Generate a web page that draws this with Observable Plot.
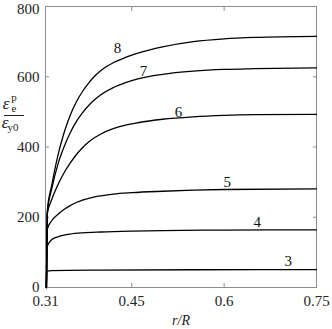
<!DOCTYPE html>
<html>
<head>
<meta charset="utf-8">
<script src="https://cdn.jsdelivr.net/npm/d3@7"></script>
<script src="https://cdn.jsdelivr.net/npm/@observablehq/plot@0.6"></script>
<style>
  html, body { margin: 0; padding: 0; background: #fff; }
  #chart { width: 332px; height: 329px; }
  #chart svg, #chart svg text { font-family: "Liberation Serif", "Times New Roman", serif !important; }
</style>
</head>
<body>
<div id="chart"></div>
<script>
// x = r/R, y = eps_e^p / eps_y0
const curve3 = [[0.3115,0],[0.312,46],[0.32,48],[0.4,49.5],[0.55,50.5],[0.75,51]];
const curve4 = [[0.3115,0],[0.313,118],[0.32,136],[0.33,144],[0.34,149],[0.35,152],[0.37,155.5],[0.40,158],[0.45,160.5],[0.50,162],[0.60,163.5],[0.75,164]];
const curve5 = [[0.3115,0],[0.313,166],[0.32,190],[0.33,208],[0.34,222],[0.35,233],[0.36,242],[0.37,249],[0.38,254],[0.39,258],[0.40,261],[0.42,266],[0.45,270],[0.50,274],[0.55,277],[0.60,279],[0.75,281]];
const curve6 = [[0.3115,0],[0.313,210],[0.32,250],[0.33,292],[0.34,326],[0.35,354],[0.36,378],[0.37,398],[0.38,414],[0.39,427],[0.40,437],[0.42,452],[0.44,462],[0.46,469],[0.50,479],[0.55,486],[0.60,490],[0.65,492],[0.75,493]];
const curve7 = [[0.3115,0],[0.313,215],[0.32,280],[0.33,350],[0.34,400],[0.35,440],[0.36,472],[0.37,497],[0.38,518],[0.39,535],[0.40,549],[0.42,569],[0.44,583],[0.46,594],[0.50,607],[0.55,616],[0.60,621],[0.65,623],[0.75,625]];
const curve8 = [[0.3115,0],[0.313,219],[0.32,290],[0.33,375],[0.34,440],[0.35,490],[0.36,528],[0.37,558],[0.38,582],[0.39,602],[0.40,618],[0.42,640],[0.44,655],[0.46,667],[0.50,685],[0.55,700],[0.60,708],[0.65,712],[0.75,715]];

const seriesNames = ["3","4","5","6","7","8"];
const seriesData = [curve3, curve4, curve5, curve6, curve7, curve8];

const labelX = [0.704, 0.654, 0.605, 0.526, 0.469, 0.427];
const labelY = [74, 185, 299, 499, 617, 681];

const xTicks = [0.31, 0.45, 0.6, 0.75];
const xTickLabels = ["0.31", "0.45", "0.6", "0.75"];
const yTicks = [0, 200, 400, 600, 800];

const rows = [];
seriesData.forEach((arr, i) => arr.forEach(([x, y]) => rows.push({series: seriesNames[i], x, y})));
const labels = seriesNames.map((s, i) => ({s, x: labelX[i], y: labelY[i]}));

const chart = Plot.plot({
  width: 332,
  height: 329,
  marginLeft: 45,
  marginRight: 16,
  marginTop: 6,
  marginBottom: 42,
  style: {fontSize: "15px", background: "#fff", color: "#222"},
  x: {domain: [0.31, 0.75]},
  y: {domain: [0, 800]},
  marks: [
    Plot.frame({stroke: "#8c8c8c", strokeWidth: 1}),
    Plot.axisX(xTicks, {anchor: "bottom", tickSize: -4, tickPadding: 12, stroke: "#8c8c8c", fill: "#222",
      tickFormat: (d, i) => xTickLabels[i], label: null, fontSize: 15}),
    Plot.axisX(xTicks, {anchor: "top", tickSize: -4, stroke: "#8c8c8c", tickFormat: () => "", label: null}),
    Plot.axisY(yTicks, {anchor: "left", tickSize: -4, tickPadding: 10, stroke: "#8c8c8c", fill: "#222", label: null, fontSize: 15}),
    Plot.axisY(yTicks, {anchor: "right", tickSize: -4, stroke: "#8c8c8c", tickFormat: () => "", label: null}),
    Plot.line(rows, {x: "x", y: "y", z: "series", stroke: "#000", strokeWidth: 1.3, curve: "monotone-x"}),
    Plot.text(labels, {x: "x", y: "y", text: "s", fill: "#111", fontSize: 15})
  ]
});

document.getElementById("chart").appendChild(chart);

const svg = d3.select(chart);
// nudge the top tick label down so it sits inside the picture, as in the reference
svg.selectAll("text").filter(function () { return this.textContent === "800"; })
  .each(function () {
    const t = this.getAttribute("transform");
    this.setAttribute("transform", (t ? t + " " : "") + "translate(0,3)");
  });

const g = svg.append("g").attr("fill", "#222");
// x label
g.append("text").attr("x", 181).attr("y", 325).attr("text-anchor", "middle")
  .attr("font-size", 14).attr("font-style", "italic").text("r/R");
// y label fraction
g.append("text").attr("x", 6).attr("y", 109).attr("font-size", 17).attr("font-style", "italic").text("ε");
g.append("text").attr("x", 14).attr("y", 112).attr("font-size", 11).text("e");
g.append("text").attr("x", 14).attr("y", 101).attr("font-size", 11).text("p");
g.append("line").attr("x1", 4).attr("x2", 24).attr("y1", 115.5).attr("y2", 115.5).attr("stroke", "#222").attr("stroke-width", 1);
g.append("text").attr("x", 5).attr("y", 128).attr("font-size", 17).attr("font-style", "italic").text("ε");
g.append("text").attr("x", 13).attr("y", 131).attr("font-size", 11).text("y0");
</script>
</body>
</html>
